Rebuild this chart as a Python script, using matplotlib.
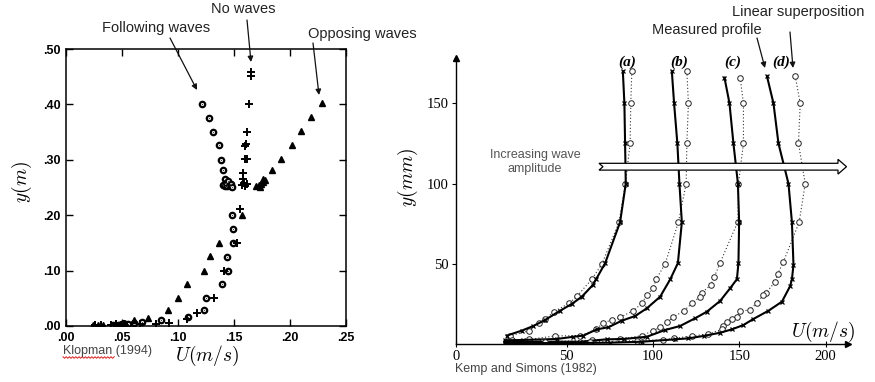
import numpy as np
import matplotlib
matplotlib.use("Agg")
import matplotlib.pyplot as plt
from matplotlib.patches import Polygon

plt.rcParams['mathtext.fontset'] = 'cm'

# ---------------- Klopman (1994): mean current profiles ----------------
follow_u = [0.121, 0.128, 0.131, 0.137, 0.138, 0.140, 0.142,
            0.140, 0.142, 0.144, 0.146, 0.143, 0.145, 0.147, 0.148,
            0.148, 0.149, 0.149, 0.144, 0.145, 0.139, 0.125, 0.123, 0.109,
            0.085, 0.068, 0.061, 0.055, 0.050, 0.046, 0.042]
follow_y = [0.400, 0.375, 0.350, 0.326, 0.300, 0.281, 0.265,
            0.255, 0.252, 0.253, 0.252, 0.258, 0.262, 0.256, 0.251,
            0.200, 0.175, 0.150, 0.125, 0.100, 0.076, 0.050, 0.029, 0.016,
            0.010, 0.008, 0.005, 0.004, 0.003, 0.002, 0.002]

nowave_u = [0.165, 0.165, 0.163, 0.162, 0.161, 0.160, 0.160, 0.162, 0.158, 0.158,
            0.157, 0.160, 0.159, 0.162, 0.155,
            0.153, 0.141, 0.132, 0.117, 0.108, 0.092, 0.080, 0.066, 0.052,
            0.045, 0.040, 0.031, 0.026]
nowave_y = [0.459, 0.451, 0.400, 0.350, 0.329, 0.325, 0.301, 0.301, 0.276, 0.265,
            0.255, 0.252, 0.258, 0.256, 0.211,
            0.150, 0.100, 0.050, 0.024, 0.012, 0.005, 0.003, 0.004, 0.003,
            0.003, 0.002, 0.002, 0.002]

oppose_u = [0.229, 0.2185, 0.210, 0.2015, 0.192, 0.184, 0.176,
            0.170, 0.172, 0.174, 0.176, 0.173, 0.178,
            0.157, 0.137, 0.129, 0.123, 0.108, 0.100, 0.091, 0.0735, 0.061,
            0.053, 0.048, 0.044, 0.033, 0.029, 0.024]
oppose_y = [0.403, 0.377, 0.3525, 0.327, 0.301, 0.282, 0.265,
            0.252, 0.254, 0.256, 0.260, 0.251, 0.263,
            0.201, 0.150, 0.126, 0.100, 0.076, 0.050, 0.029, 0.015, 0.011,
            0.006, 0.004, 0.002, 0.002, 0.002, 0.002]

left_xticks = [0.00, 0.05, 0.10, 0.15, 0.20, 0.25]
left_yticks = [0.0, 0.1, 0.2, 0.3, 0.4, 0.5]

# ---------------- Kemp and Simons (1982): profiles (a)-(d) ----------------
a_meas_u = [82.5, 83.4, 83.8, 84.2, 80.9, 72.2, 67.0, 65.1, 58.7, 52.9, 46.1, 37.4, 30.6, 23.9, 15.2]
a_meas_y = [170, 150, 125, 100, 76, 50.4, 40.5, 36.9, 29.6, 25.1, 20.9, 15.1, 11.4, 8.5, 5.4]
a_sup_u = [87.7, 87.1, 86.7, 84.0, 80.3, 70.3, 64.5, 56.1, 51.3, 42.6, 37.4, 34.1, 28.3, 17.1]
a_sup_y = [170, 150, 125, 100, 76, 49.8, 40.5, 30.1, 25.5, 20.3, 15.6, 13.4, 8.5, 5.2]

b_meas_u = [110.9, 112.2, 114.1, 115.3, 116.7, 114.4, 110.0, 104.1, 96.4, 89.6, 81.9,
            74.1, 67.4, 59.6, 53.8, 44.2, 24.8, 14.2]
b_meas_y = [170, 150, 125, 100, 76, 50.5, 40.5, 29.6, 22.4, 17.6, 14.7,
            10.6, 9.3, 5.4, 4.7, 3.3, 2.7, 2.5]
b_sup_u = [119.6, 120.5, 119.6, 119.2, 114.7, 107.0, 101.8, 100.2, 96.4, 93.5, 88.6,
           80.9, 76.1, 71.2, 67.0, 57.7, 43.2, 28.3, 18.1]
b_sup_y = [170, 150, 125, 100, 76, 50, 40.5, 35, 30.7, 25.5, 20.9,
           16.8, 15.1, 13.4, 9.3, 5.4, 5.2, 3.1, 2.7]

c_meas_u = [141.4, 144.3, 146.6, 149.2, 149.9, 149.5, 148.6, 144.7, 138.9, 131.2, 124.4,
            115.7, 107.0, 96.4, 82.9, 73.2, 57.7, 37.4, 14.0]
c_meas_y = [166, 150, 125, 100, 76, 50.4, 40.5, 34.9, 27, 20.3, 16.2,
            11.4, 8.9, 4.7, 3.3, 3.1, 1.6, 1.6, 1.4]
c_sup_u = [150.5, 152.4, 152.4, 149.5, 149.2, 138.9, 135.4, 133.5, 128.3, 127.3, 122.5,
           118.0, 111.5, 108.0, 104.1, 100.2, 93.5, 80.9, 64.5, 35.5]
c_sup_y = [166, 150, 125, 100, 76.4, 50.8, 41.7, 36.9, 32.1, 29.6, 25.5,
           20.9, 16.8, 13.7, 10.6, 8.5, 5.4, 3.1, 2.5, 1.6]

d_meas_u = [166.0, 169.8, 172.7, 178.5, 180.5, 181.4, 180.5, 179.5, 174.7, 166.9, 157.9,
            152.4, 145.7, 138.9, 129.3, 120.5, 112.8, 93.5, 75.1, 53.8, 14.0]
d_meas_y = [167, 150, 125, 100, 76, 49.4, 40.5, 36.3, 26.5, 20.9, 15.6,
            12, 9.3, 7.2, 5.2, 3.7, 3.1, 1.6, 1.0, 0.8, 0.7]
d_sup_u = [182.4, 185.3, 184.3, 188.2, 184.7, 175.6, 172.2, 170.8, 165.6, 164.0, 160.2,
           156.3, 150.5, 148.6, 145.7, 142.8, 140.8, 139.9, 132.1, 122.5, 111.9,
           106.0, 90.6, 63.5, 37.4]
d_sup_y = [167, 150, 125, 100, 76, 51.4, 43.6, 39, 32.1, 30.7, 25.9,
           21.4, 20.7, 16.8, 15.6, 14.1, 11.4, 9.3, 6.4, 5.2, 3.7,
           2.7, 2.3, 1.5, 1.2]

profile_names = ['(a)', '(b)', '(c)', '(d)']
right_xticks = [50, 100, 150, 200]
right_yticks = [50, 100, 150]

# ---------------- figure helpers (pixel -> figure fraction) ----------------
W, H = 875, 382
fig = plt.figure(figsize=(W / 100, H / 100), dpi=100)
fig.patch.set_facecolor('white')


def P(x, y):
    return (x / W, 1 - y / H)


SANS = 'Liberation Sans'
SERIF = 'Liberation Serif'
NOTE = '#222222'

# ======================= left panel =======================
axl = fig.add_axes([66 / W, 1 - 326 / H, 280 / W, 277 / H])
axl.plot(follow_u, follow_y, linestyle='none', marker='o', ms=3.9,
         mfc='white', mec='black', mew=1.6)
axl.plot(follow_u, follow_y, linestyle='none', marker='o', ms=1.0,
         mfc='#444444', mec='none')
axl.plot(nowave_u, nowave_y, linestyle='none', marker='+', ms=6, mec='black', mew=1.4)
axl.plot(oppose_u, oppose_y, linestyle='none', marker='^', ms=4.8,
         mfc='black', mec='black')
axl.set_xlim(0, 0.25)
axl.set_ylim(0, 0.5)
axl.set_xticks(left_xticks)
axl.set_yticks(left_yticks)
axl.set_xticklabels([f"{v:.2f}"[1:] for v in left_xticks])
axl.set_yticklabels([f"{v:.2f}"[1:] for v in left_yticks])
axl.tick_params(direction='in', length=5, width=1, top=True, right=True,
                labelsize=9, pad=4)
for lbl in axl.get_xticklabels() + axl.get_yticklabels():
    lbl.set_fontfamily(SANS)
    lbl.set_fontweight('bold')
for s in axl.spines.values():
    s.set_linewidth(1.1)

fig.text(*P(207, 356), r'$U(m/s)$', ha='center', va='center', fontsize=14)
fig.text(*P(22, 182), r'$y(m)$', ha='center', va='center', fontsize=14, rotation=90)
fig.text(*P(63, 351), 'Klopman (1994)', ha='left', va='center', fontsize=9,
         family=SANS, color='#444444')
# spell-check squiggle under the author name
zx = np.arange(63, 115.5, 1.6)
zy = 357.5 + np.where(np.arange(len(zx)) % 2 == 0, -0.8, 0.8)
fig.add_artist(plt.Line2D(zx / W, 1 - zy / H, color='#d62020', lw=0.7))

left_notes = [('Following waves', (156, 28), (170, 38), (197, 90)),
              ('No waves', (243, 9), (247, 20), (251, 62)),
              ('Opposing waves', (362, 34), (313, 43), (319, 95))]
for txt, tpos, a0, a1 in left_notes:
    fig.text(*P(*tpos), txt, ha='center', va='center', fontsize=10.5,
             family=SANS, color=NOTE)
    axl.annotate('', xy=P(*a1), xytext=P(*a0), xycoords='figure fraction',
                 textcoords='figure fraction', annotation_clip=False,
                 arrowprops=dict(arrowstyle='-|>', color='#111111', lw=0.9,
                                 mutation_scale=8, shrinkA=0, shrinkB=0))

# ======================= right panel =======================
axr = fig.add_axes([456 / W, 1 - 344.3 / H, 392 / W, 286 / H])
x_left, x_right = -14.2, 213
axr.set_xlim(x_left, x_right)
axr.set_ylim(0, 178)

profiles = [(a_meas_u, a_meas_y, a_sup_u, a_sup_y),
            (b_meas_u, b_meas_y, b_sup_u, b_sup_y),
            (c_meas_u, c_meas_y, c_sup_u, c_sup_y),
            (d_meas_u, d_meas_y, d_sup_u, d_sup_y)]
for name, (mu, my, su, sy) in zip(profile_names, profiles):
    axr.plot(su, sy, linestyle=(0, (1, 2)), color='#333333', lw=0.8,
             marker='o', ms=4, mfc='white', mec='#222222', mew=0.7)
    axr.plot(mu, my, linestyle='-', color='black', lw=1.5,
             marker='x', ms=3.5, mec='black', mew=0.9)
    axr.text((mu[0] + su[0]) / 2, 175.5, name, ha='center', va='center',
             fontsize=11, family=SERIF, fontweight='bold', style='italic')

for side in ('top', 'right'):
    axr.spines[side].set_visible(False)
axr.spines['left'].set_linewidth(1.0)
axr.spines['bottom'].set_linewidth(1.0)
axr.plot(1, 0, '>', color='black', ms=4, transform=axr.transAxes, clip_on=False)
axr.plot(0, 1, '^', color='black', ms=4, transform=axr.transAxes, clip_on=False)

axr.set_xticks([x_left] + right_xticks)
axr.set_xticklabels(['0'] + [str(v) for v in right_xticks])
axr.set_yticks(right_yticks)
axr.set_yticklabels([str(v) for v in right_yticks])
axr.tick_params(axis='x', direction='inout', length=4, width=0.8, labelsize=10.5, pad=2)
axr.tick_params(axis='y', direction='out', length=3, width=0.8, labelsize=10.5, pad=2)
for lbl in axr.get_xticklabels() + axr.get_yticklabels():
    lbl.set_fontfamily(SERIF)

fig.text(*P(823, 332), r'$U(m/s)$', ha='center', va='center', fontsize=14)
fig.text(*P(408, 178), r'$y(mm)$', ha='center', va='center', fontsize=14, rotation=90)
fig.text(*P(455, 369), 'Kemp and Simons (1982)', ha='left', va='center',
         fontsize=9, family=SANS, color='#444444')

right_notes = [('Measured profile', (707, 30), (757, 38), (765, 68)),
               ('Linear superposition', (798, 12), (790, 32), (793, 68))]
for txt, tpos, a0, a1 in right_notes:
    fig.text(*P(*tpos), txt, ha='center', va='center', fontsize=10.5,
             family=SANS, color=NOTE)
    axr.annotate('', xy=P(*a1), xytext=P(*a0), xycoords='figure fraction',
                 textcoords='figure fraction', annotation_clip=False,
                 arrowprops=dict(arrowstyle='-|>', color='#111111', lw=0.9,
                                 mutation_scale=8, shrinkA=0, shrinkB=0))

# hollow arrow across the profiles
arrow_px = [(599, 163.3), (838, 163.3), (838, 159.3), (846.5, 166.7),
            (838, 174.1), (838, 170.1), (599, 170.1), (603, 166.7)]
fig.add_artist(Polygon([P(x, y) for x, y in arrow_px], closed=True,
                       transform=fig.transFigure, facecolor='white',
                       edgecolor='black', lw=0.9, zorder=10))
fig.text(*P(535, 162), 'Increasing wave\namplitude', ha='center', va='center',
         fontsize=9, family=SANS, color='#555555', linespacing=1.25)

fig.savefig('out.png', dpi=100, facecolor='white')
